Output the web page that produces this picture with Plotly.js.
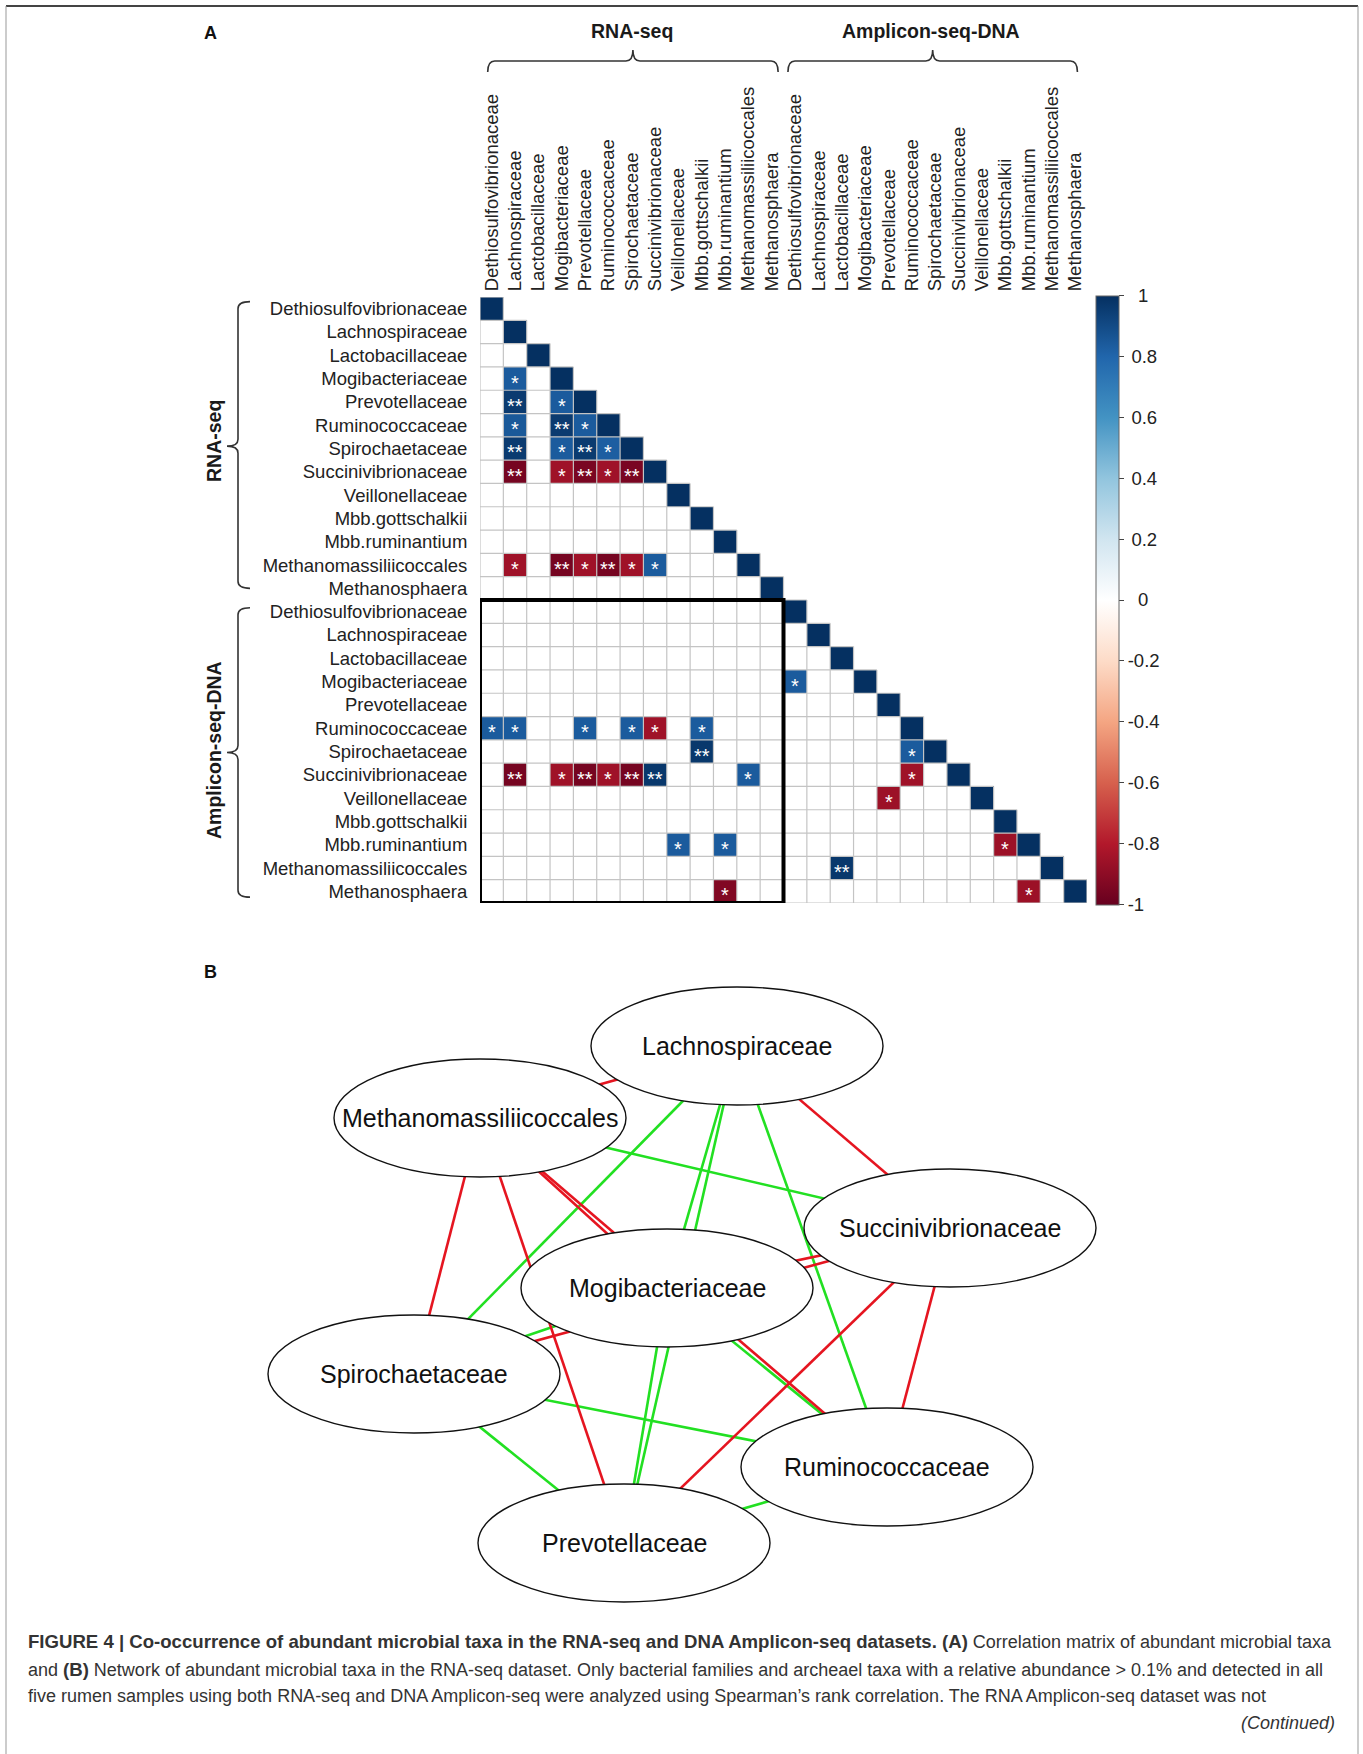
<!DOCTYPE html>
<html><head><meta charset="utf-8">
<script src="https://cdn.plot.ly/plotly-3.0.1.min.js"></script>
<style>html,body{margin:0;padding:0;background:#fff;}#chart{width:1363px;height:1754px;}</style>
</head><body><div id="chart"></div>
<script>
// ---------- DATA ----------
const taxa = ['Dethiosulfovibrionaceae','Lachnospiraceae','Lactobacillaceae','Mogibacteriaceae','Prevotellaceae','Ruminococcaceae','Spirochaetaceae','Succinivibrionaceae','Veillonellaceae','Mbb.gottschalkii','Mbb.ruminantium','Methanomassiliicoccales','Methanosphaera'];
const datasets = ['RNA-seq','Amplicon-seq-DNA'];
const diagRho = [1,1,1,1,1,1,1,1,1,1,1,1,1,1,1,1,1,1,1,1,1,1,1,1,1,1];
// significant correlations (lower triangle), row/col index over RNA taxa (0-12) then Amplicon taxa (13-25)
const sigRow   = [3,4,4,5,5,5,6,6,6,6,7,7,7,7,7,11,11,11,11,11,11, 18,18,18,18,18,18,19,20,20,20,20,20,20,20,23,23,25, 16,19,20,21,23,24,25];
const sigCol   = [1,1,3,1,3,4,1,3,4,5,1,3,4,5,6,1,3,4,5,6,7, 0,1,4,6,7,9,9,1,3,4,5,6,7,11,8,10,10, 13,18,18,17,22,15,23];
const sigRho   = [0.84,0.96,0.84,0.85,0.96,0.84,0.96,0.84,0.96,0.83,-0.96,-0.85,-0.95,-0.85,-0.95,-0.85,-0.96,-0.85,-0.96,-0.85,0.84,
                  0.84,0.84,0.84,0.84,-0.85,0.84,0.97,-0.96,-0.85,-0.96,-0.85,-0.96,0.97,0.84,0.84,0.84,-0.93,
                  0.84,0.84,-0.85,-0.86,-0.86,0.97,-0.86];
const sigStars = ['*','**','*','*','**','*','**','*','**','*','**','*','**','*','**','*','**','*','**','*','*',
                  '*','*','*','*','*','*','**','**','*','**','*','**','**','*','*','*','*',
                  '*','*','*','*','*','**','*'];
const colorTickVals = [-1,-0.8,-0.6,-0.4,-0.2,0,0.2,0.4,0.6,0.8,1];
const colorTickText = ['-1','-0.8','-0.6','-0.4','-0.2','\u20070','\u20090.2','\u20090.4','\u20090.6','\u20090.8','\u20071'];

// network (panel B), RNA-seq dataset
const nodeNames = ['Lachnospiraceae','Methanomassiliicoccales','Succinivibrionaceae','Mogibacteriaceae','Spirochaetaceae','Ruminococcaceae','Prevotellaceae'];
const nodeLayoutX = [737,480,950,667,414,887,624];
const nodeLayoutY = [1046,1118,1228,1288,1374,1467,1543];
const edgeFrom = [3,6,6,5,5,5,4,4,4,4,2,2,2,2,2,1,1,1,1,1,1];
const edgeTo   = [0,0,3,0,3,6,0,3,6,5,0,3,6,5,4,0,3,6,5,4,2];
const edgeSign = [1,1,1,1,1,1,1,1,1,1,-1,-1,-1,-1,-1,-1,-1,-1,-1,-1,1];

const B0 = '<b><span style="font-size:18.6px">', B1 = '</span></b>';
const captionLines = [
 B0 + 'FIGURE 4 | Co-occurrence of abundant microbial taxa in the RNA-seq and DNA Amplicon-seq datasets. (A)' + B1 + ' Correlation matrix of abundant microbial taxa',
 'and ' + B0 + '(B)' + B1 + ' Network of abundant microbial taxa in the RNA-seq dataset. Only bacterial families and archeael taxa with a relative abundance &gt; 0.1% and detected in all',
 'five rumen samples using both RNA-seq and DNA Amplicon-seq were analyzed using Spearman\u2019s rank correlation. The RNA Amplicon-seq dataset was not'
];

// ---------- BUILD ----------
const W = 1363, H = 1754;
const FONT = 'Liberation Sans, Arial, Helvetica, sans-serif';
const px = v => v / W;
const py = v => 1 - v / H;
const N = taxa.length * datasets.length;
const labels = [];
datasets.forEach(() => taxa.forEach(t => labels.push(t)));
const idx = labels.map((_, i) => i);

const z = [];
for (let r = 0; r < N; r++) { z.push(new Array(N).fill(null)); }
for (let i = 0; i < N; i++) z[i][i] = diagRho[i];
for (let k = 0; k < sigRow.length; k++) z[sigRow[k]][sigCol[k]] = sigRho[k];

const corrScale = [
 [0,'#67001F'],[0.1,'#B2182B'],[0.2,'#D6604D'],[0.3,'#F4A582'],[0.4,'#FDDBC7'],[0.5,'#FFFFFF'],
 [0.6,'#D1E5F0'],[0.7,'#92C5DE'],[0.8,'#4393C3'],[0.9,'#2166AC'],[1,'#053061']];

const heat = {
  type: 'heatmap', z: z, x: idx, y: idx, xaxis: 'x', yaxis: 'y',
  zmin: -1, zmax: 1, colorscale: corrScale, hoverinfo: 'skip',
  colorbar: {
    x: px(1096), xanchor: 'left', y: py(600), yanchor: 'middle',
    len: 609, lenmode: 'pixels', thickness: 23, thicknessmode: 'pixels',
    xpad: 0, ypad: 0, outlinewidth: 1, outlinecolor: '#666',
    tickmode: 'array', tickvals: colorTickVals, ticktext: colorTickText,
    ticks: 'outside', ticklen: 5, tickcolor: '#444', tickwidth: 1,
    tickfont: {family: FONT, size: 18.5, color: '#222'}
  }
};

// grid of the lower triangle
const gx = [], gy = [];
for (let k = 0; k <= N; k++) {
  gx.push(-0.5, Math.min(k, N - 1) + 0.5, null); gy.push(k - 0.5, k - 0.5, null);
  gx.push(k - 0.5, k - 0.5, null); gy.push(Math.max(k - 1, 0) - 0.5, N - 0.5, null);
}
const grid = {type: 'scatter', mode: 'lines', x: gx, y: gy, xaxis: 'x', yaxis: 'y',
  line: {color: '#c4c4c4', width: 1.2}, hoverinfo: 'skip'};

// network edges
function edgeTrace(sign, color) {
  const ex = [], ey = [];
  for (let k = 0; k < edgeFrom.length; k++) {
    if (edgeSign[k] !== sign) continue;
    ex.push(nodeLayoutX[edgeFrom[k]], nodeLayoutX[edgeTo[k]], null);
    ey.push(nodeLayoutY[edgeFrom[k]], nodeLayoutY[edgeTo[k]], null);
  }
  return {type: 'scatter', mode: 'lines', x: ex, y: ey, xaxis: 'x2', yaxis: 'y2',
    line: {color: color, width: 2.6}, hoverinfo: 'skip'};
}
const posEdges = edgeTrace(1, '#22e022');
const negEdges = edgeTrace(-1, '#e51520');

const shapes = [], annotations = [];
function note(o) { annotations.push(Object.assign({showarrow: false, xanchor: 'center', yanchor: 'middle'}, o)); }
// node ellipses
const RX = 146, RY = 59;
nodeNames.forEach((n, i) => {
  shapes.push({type: 'circle', xref: 'x2', yref: 'y2', layer: 'above',
    x0: nodeLayoutX[i] - RX, x1: nodeLayoutX[i] + RX, y0: nodeLayoutY[i] - RY, y1: nodeLayoutY[i] + RY,
    fillcolor: '#ffffff', line: {color: '#111', width: 1.4}});
  note({xref: 'x2', yref: 'y2', x: nodeLayoutX[i], y: nodeLayoutY[i], text: n,
    font: {family: FONT, size: 25, color: '#111'}});
});

// black box around Amplicon rows x RNA columns
shapes.push({type: 'rect', xref: 'x', yref: 'y', layer: 'above',
  x0: -0.5, x1: taxa.length - 0.5, y0: taxa.length - 0.5, y1: N - 0.5,
  line: {color: '#000', width: 4}});

// stars
for (let k = 0; k < sigRow.length; k++) {
  note({xref: 'x', yref: 'y', x: sigCol[k], y: sigRow[k], text: sigStars[k],
    yshift: -4, font: {family: FONT, size: 20, color: '#ffffff'}});
}

// brackets
const BR = '#333';
function topBracket(x0, x1, yl, ye, yt) {
  const xc = (x0 + x1) / 2, d = 0.3;
  return {type: 'path', xref: 'x', yref: 'paper', layer: 'above', line: {color: BR, width: 1.6},
    path: `M ${x0},${py(ye)} Q ${x0},${py(yl)} ${x0 + d},${py(yl)} L ${xc - d},${py(yl)} Q ${xc},${py(yl)} ${xc},${py(yt)} Q ${xc},${py(yl)} ${xc + d},${py(yl)} L ${x1 - d},${py(yl)} Q ${x1},${py(yl)} ${x1},${py(ye)}`};
}
function leftBracket(y0, y1, ycTick, xl, xe, xt) {
  const d = 0.3;
  return {type: 'path', xref: 'paper', yref: 'y', layer: 'above', line: {color: BR, width: 1.6},
    path: `M ${px(xe)},${y0} Q ${px(xl)},${y0} ${px(xl)},${y0 + d} L ${px(xl)},${ycTick - d} Q ${px(xl)},${ycTick} ${px(xt)},${ycTick} Q ${px(xl)},${ycTick} ${px(xl)},${ycTick + d} L ${px(xl)},${y1 - d} Q ${px(xl)},${y1} ${px(xe)},${y1}`};
}
shapes.push(topBracket(-0.17, 12.27, 61, 72, 50));
shapes.push(topBracket(12.69, 25.09, 61, 72, 50));
shapes.push(leftBracket(-0.3, 12.0, 5.9, 238, 250, 227));
shapes.push(leftBracket(12.83, 25.25, 19.04, 238, 250, 227));

const hdr = {family: FONT, size: 19.5, color: '#1a1a1a'};
note({xref: 'paper', yref: 'paper', x: px(632), y: py(31), text: '<b>' + datasets[0] + '</b>', font: hdr});
note({xref: 'paper', yref: 'paper', x: px(931), y: py(31), text: '<b>' + datasets[1] + '</b>', font: hdr});
note({xref: 'paper', yref: 'paper', x: px(214), y: py(441), text: '<b>' + datasets[0] + '</b>', textangle: -90, font: hdr});
note({xref: 'paper', yref: 'paper', x: px(214), y: py(750), text: '<b>' + datasets[1] + '</b>', textangle: -90, font: hdr});

// panel letters
note({xref: 'paper', yref: 'paper', x: px(210), y: py(33), text: '<b>A</b>', font: {family: FONT, size: 18, color: '#111'}});
note({xref: 'paper', yref: 'paper', x: px(210), y: py(972), text: '<b>B</b>', font: {family: FONT, size: 18, color: '#111'}});

// caption
const capY = [1641, 1669, 1696];
captionLines.forEach((t, i) => note({xref: 'paper', yref: 'paper', x: px(26), y: py(capY[i]),
  xanchor: 'left', align: 'left', text: t, font: {family: FONT, size: 18.0, color: '#333'}}));
note({xref: 'paper', yref: 'paper', x: px(1337), y: py(1723), xanchor: 'right', text: '<i>(Continued)</i>',
  font: {family: FONT, size: 18.0, color: '#333'}});

// figure border
shapes.push({type: 'line', xref: 'paper', yref: 'paper', x0: px(6), x1: px(1358), y0: py(6), y1: py(6), line: {color: '#444', width: 2}});
shapes.push({type: 'line', xref: 'paper', yref: 'paper', x0: px(6), x1: px(6), y0: py(6), y1: 0, line: {color: '#999', width: 1}});
shapes.push({type: 'line', xref: 'paper', yref: 'paper', x0: px(1358), x1: px(1358), y0: py(6), y1: 0, line: {color: '#999', width: 1}});

const tickFont = {family: FONT, size: 18.5, color: '#222'};
const layout = {
  width: W, height: H, margin: {l: 0, r: 0, t: 0, b: 0},
  paper_bgcolor: '#fff', plot_bgcolor: 'rgba(0,0,0,0)', showlegend: false,
  xaxis: {domain: [px(480), px(1087)], range: [-0.5, N - 0.5], side: 'top', anchor: 'y',
    tickmode: 'array', tickvals: idx, ticktext: labels, tickangle: -90, tickfont: tickFont,
    ticks: 'outside', ticklen: 1, tickcolor: 'rgba(0,0,0,0)', showgrid: false, zeroline: false, showline: false, fixedrange: true},
  yaxis: {domain: [py(903), py(297)], range: [N - 0.5, -0.5], anchor: 'x',
    tickmode: 'array', tickvals: idx, ticktext: labels, tickfont: tickFont,
    ticks: 'outside', ticklen: 8, tickcolor: 'rgba(0,0,0,0)', showgrid: false, zeroline: false, showline: false, fixedrange: true},
  xaxis2: {domain: [px(200), px(1160)], range: [200, 1160], anchor: 'y2', visible: false, fixedrange: true},
  yaxis2: {domain: [py(1640), py(960)], range: [1640, 960], anchor: 'x2', visible: false, fixedrange: true},
  shapes: shapes, annotations: annotations
};

Plotly.newPlot('chart', [heat, grid, posEdges, negEdges], layout, {displayModeBar: false, staticPlot: true});
</script></body></html>
